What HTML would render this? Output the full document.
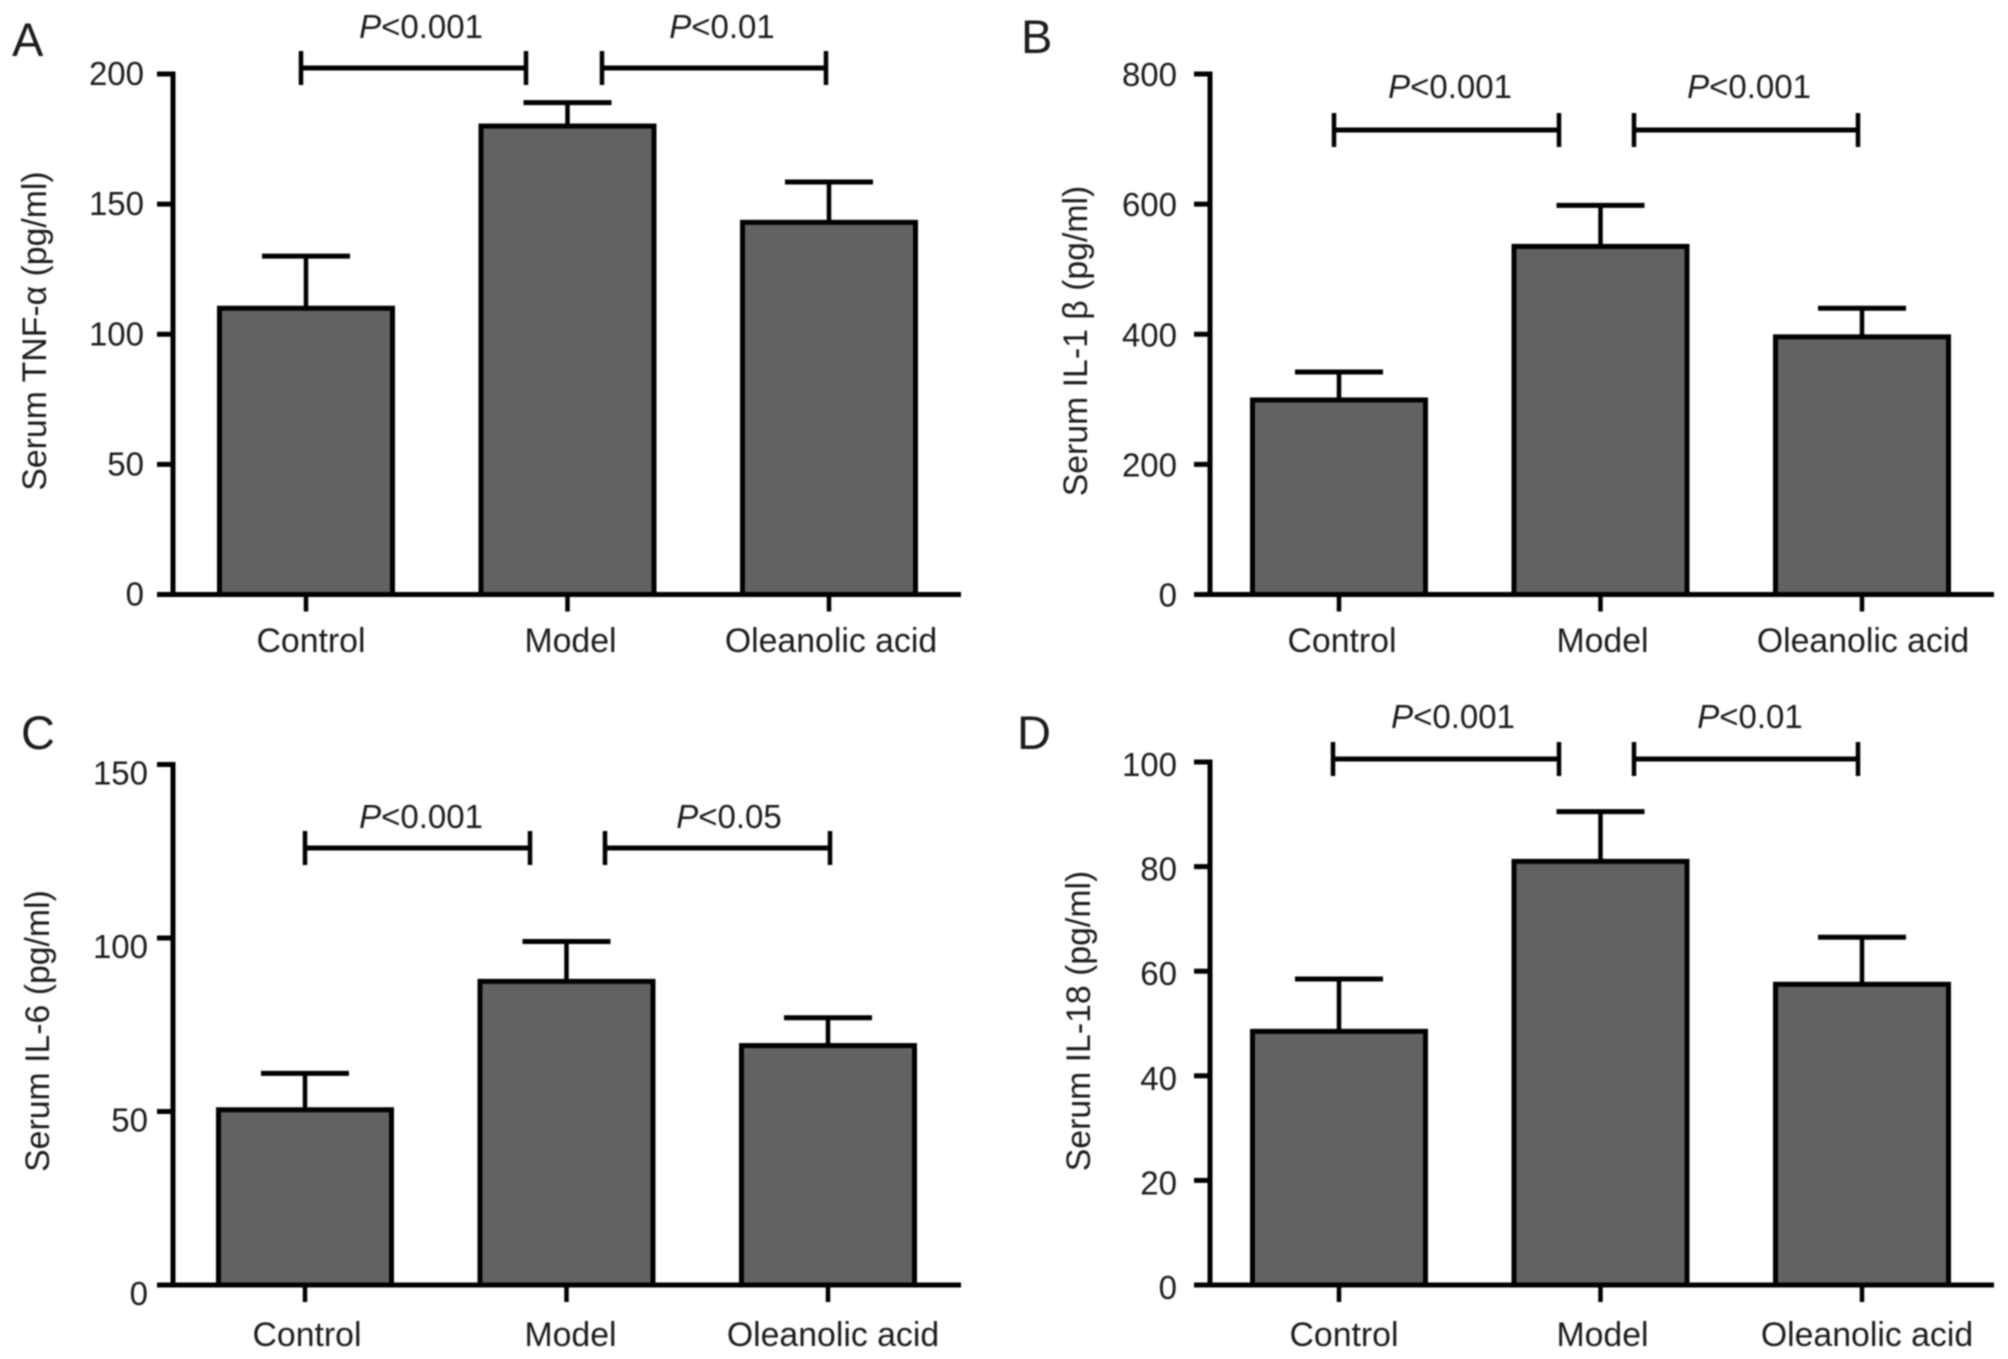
<!DOCTYPE html>
<html lang="en">
<head>
<meta charset="utf-8">
<title>Serum cytokine levels</title>
<style>
html,body{margin:0;padding:0;background:#fff;}
svg{display:block;filter:blur(0.8px);}
text{font-family:"Liberation Sans",Arial,sans-serif;fill:#1c1c1c;}
</style>
</head>
<body>
<svg id="figure" width="2008" height="1359" viewBox="0 0 2008 1359" xmlns="http://www.w3.org/2000/svg"></svg>
<script>
const categories = ['Control', 'Model', 'Oleanolic acid'];

const tnfMeans = [110, 180, 143];
const tnfErrors = [20, 9, 15.5];
const tnfTicks = [0, 50, 100, 150, 200];
const tnfPValues = ['<0.001', '<0.01'];

const il1Means = [299, 535, 396];
const il1Errors = [43, 63, 44];
const il1Ticks = [0, 200, 400, 600, 800];
const il1PValues = ['<0.001', '<0.001'];

const il6Means = [50.5, 87.5, 69];
const il6Errors = [10.5, 11.5, 8];
const il6Ticks = [0, 50, 100, 150];
const il6PValues = ['<0.001', '<0.05'];

const il18Means = [48.5, 81, 57.5];
const il18Errors = [10, 9.5, 9];
const il18Ticks = [0, 20, 40, 60, 80, 100];
const il18PValues = ['<0.001', '<0.01'];

const panels = [
  { id: 'a', letter: 'A', letterX: 12, letterY: 56, means: tnfMeans, errors: tnfErrors, ticks: tnfTicks, pValues: tnfPValues,
    title: 'Serum TNF-\u03b1 (pg/ml)', titleX: 46, titleY: 331,
    axisX: 173, axisEnd: 961, top: 74, bottom: 594.5, tickLabelEnd: 144, tickDy: 11,
    firstCenter: 306, step: 261.5, labelShift: [5, 3, 2], labelY: 652,
    bracketY: 68, brackets: [[301, 526], [602, 826]], pLabelX: [421, 722], pLabelY: 38 },
  { id: 'b', letter: 'B', letterX: 1021, letterY: 53, means: il1Means, errors: il1Errors, ticks: il1Ticks, pValues: il1PValues,
    title: 'Serum IL-1 \u03b2 (pg/ml)', titleX: 1087, titleY: 341,
    axisX: 1210, axisEnd: 1994, top: 74, bottom: 594.5, tickLabelEnd: 1177, tickDy: 12,
    firstCenter: 1339, step: 261.5, labelShift: [3, 2, 1], labelY: 652,
    bracketY: 130, brackets: [[1334, 1559], [1634, 1858]], pLabelX: [1450, 1749], pLabelY: 98 },
  { id: 'c', letter: 'C', letterX: 21, letterY: 749, means: il6Means, errors: il6Errors, ticks: il6Ticks, pValues: il6PValues,
    title: 'Serum IL-6 (pg/ml)', titleX: 49, titleY: 1031,
    axisX: 173, axisEnd: 961, top: 764.5, bottom: 1285, tickLabelEnd: 148, tickDy: 20,
    firstCenter: 305, step: 261.5, labelShift: [2, 4, 5], labelY: 1346,
    bracketY: 848, brackets: [[305, 530], [605, 830]], pLabelX: [421, 729], pLabelY: 828 },
  { id: 'd', letter: 'D', letterX: 1017, letterY: 749, means: il18Means, errors: il18Errors, ticks: il18Ticks, pValues: il18PValues,
    title: 'Serum IL-18 (pg/ml)', titleX: 1090, titleY: 1021,
    axisX: 1210, axisEnd: 1994, top: 762, bottom: 1285, tickLabelEnd: 1177, tickDy: 14,
    firstCenter: 1339, step: 261.5, labelShift: [5, 2, 5], labelY: 1346,
    bracketY: 759, brackets: [[1333, 1559], [1634, 1858]], pLabelX: [1453, 1750], pLabelY: 728 }
];

const INK = '#000';
const svg = document.getElementById('figure');
const NS = 'http://www.w3.org/2000/svg';

function make(tag, parent, name, attrs, content) {
  const el = document.createElementNS(NS, tag);
  
  
  for (const k in attrs) el.setAttribute(k, attrs[k]);
  if (content !== undefined) el.textContent = content;
  parent.appendChild(el);
  return el;
}
function line(parent, name, x1, y1, x2, y2, w) {
  return make('line', parent, name, { x1, y1, x2, y2, stroke: INK, 'stroke-width': w });
}

panels.forEach(function (p) {
  const g = make('g', svg, 'panel-' + p.id, {});
  const yMax = p.ticks[p.ticks.length - 1];
  const yScale = function (v) { return p.bottom - (v / yMax) * (p.bottom - p.top); };
  const xScale = function (i) { return p.firstCenter + i * p.step; };
  const barW = 173;
  const capW = 88;

  make('text', g, 'panel-letter', { x: p.letterX, y: p.letterY, 'font-size': 47 }, p.letter);

  // bars and error bars
  categories.forEach(function (cat, i) {
    const key = cat.toLowerCase().replace(/ /g, '-');
    const cx = xScale(i);
    const topY = yScale(p.means[i]);
    const errY = yScale(p.means[i] + p.errors[i]);
    line(g, 'error-stem-' + key, cx, topY, cx, errY, 4.5);
    line(g, 'error-cap-' + key, cx - capW / 2, errY, cx + capW / 2, errY, 5);
    make('rect', g, 'bar-' + key, {
      x: cx - barW / 2, y: topY, width: barW, height: p.bottom - topY,
      fill: '#626262', stroke: INK, 'stroke-width': 5
    });
  });

  // y axis
  line(g, 'y-axis', p.axisX, p.top - 2.5, p.axisX, p.bottom + 2, 5);
  p.ticks.forEach(function (t) {
    const y = yScale(t);
    line(g, 'y-tick-' + t, p.axisX - 16, y, p.axisX, y, 5);
    make('text', g, 'y-tick-label-' + t, { x: p.tickLabelEnd, y: y + p.tickDy, 'font-size': 33, 'text-anchor': 'end' }, String(t));
  });

  // x axis
  line(g, 'x-axis', p.axisX - 16, p.bottom, p.axisEnd, p.bottom, 5);
  categories.forEach(function (cat, i) {
    const key = cat.toLowerCase().replace(/ /g, '-');
    const cx = xScale(i);
    line(g, 'x-tick-' + key, cx, p.bottom, cx, p.bottom + 17, 4.5);
    make('text', g, 'x-label-' + key, { x: cx + p.labelShift[i], y: p.labelY, 'font-size': 33.8, 'text-anchor': 'middle' }, cat);
  });

  // y title
  make('text', g, 'y-axis-title', {
    x: p.titleX, y: p.titleY, 'font-size': 33.8, 'text-anchor': 'middle',
    transform: 'rotate(-90 ' + p.titleX + ' ' + p.titleY + ')'
  }, p.title);

  // significance brackets
  p.brackets.forEach(function (b, i) {
    const bg = make('g', g, 'significance-bracket-' + (i + 1), {});
    line(bg, 'bracket-line', b[0], p.bracketY, b[1], p.bracketY, 5);
    line(bg, 'bracket-left-end', b[0], p.bracketY - 17, b[0], p.bracketY + 17, 4.5);
    line(bg, 'bracket-right-end', b[1], p.bracketY - 17, b[1], p.bracketY + 17, 4.5);
    const label = make('text', g, 'p-value-label-' + (i + 1), { x: p.pLabelX[i], y: p.pLabelY, 'font-size': 33, 'text-anchor': 'middle' });
    make('tspan', label, 'p-symbol', { 'font-style': 'italic' }, 'P');
    make('tspan', label, 'p-value', {}, p.pValues[i]);
  });
});
</script>
</body>
</html>
